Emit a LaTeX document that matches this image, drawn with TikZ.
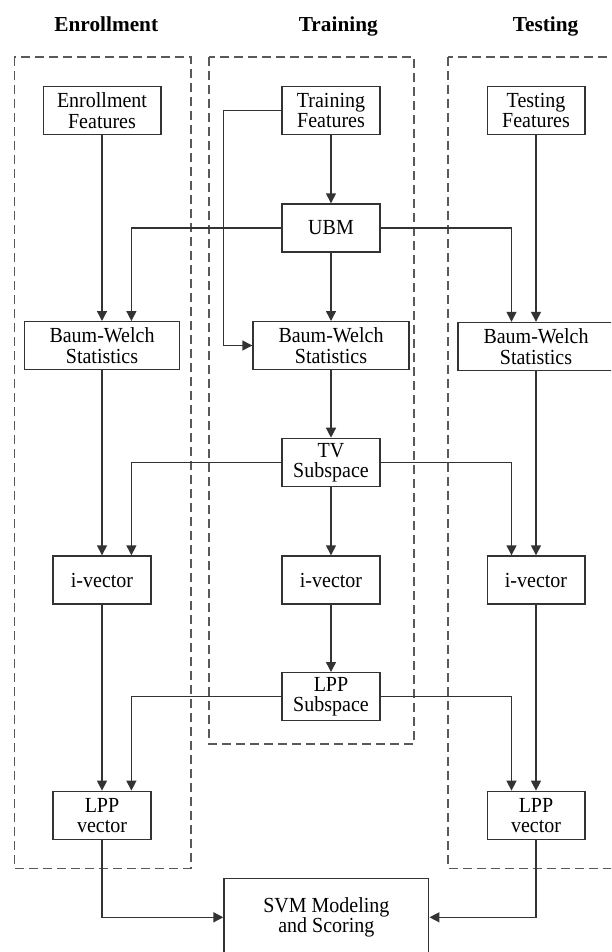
\documentclass[tikz,border=0pt]{standalone}
\usepackage{fontspec}
\setmainfont{Liberation Serif}
\newfontfamily\boxfont[FakeStretch=0.93]{Liberation Serif}
\usetikzlibrary{arrows.meta,calc}
\begin{document}
\begin{tikzpicture}[x=1pt,y=-1pt,
  box/.style={draw=black!80,line width=1.4pt,fill=white,align=center,inner sep=0pt,
    minimum height=48pt,font=\boxfont\fontsize{21.5}{20.3}\selectfont,text=black},
  conn/.style={draw=black!80,line width=1.4pt,-{Triangle[length=10pt,width=10pt]}},
  frame/.style={draw=black!65,line width=1.5pt,dash pattern=on 9pt off 5pt},
  title/.style={anchor=base,font=\bfseries\fontsize{21.3}{24}\selectfont,text=black}]
\useasboundingbox (0,0) rectangle (611,952);
\clip (0,0) rectangle (611,952);
% titles
\node[title] (t1) at (106.3,31.7) {Enrollment};
\node[title] (t2) at (338.3,31.7) {Training};
\node[title] (t3) at (545.6,31.7) {Testing};
% dashed frames
\draw[frame] (14.4,57) rectangle (191,868.3);
\draw[frame] (209,57) rectangle (414,744);
\draw[frame] (448,57) rectangle (640,868.3);
% enrollment column
\node[box,minimum width=117.6pt] (ef) at (102,110.7) {Enrollment\\Features};
\node[box,minimum width=155.5pt,minimum height=47.6pt] (ebw) at (102,345.5) {Baum-Welch\\Statistics};
\node[box,minimum width=98pt] (eiv) at (102,580) {i-vector};
\node[box,minimum width=98pt] (elpp) at (102,815.3) {LPP\\vector};
% training column
\node[box,minimum width=98pt] (trf) at (331,110.7) {Training\\Features};
\node[box,minimum width=98pt] (ubm) at (331,228) {UBM};
\node[box,minimum width=156pt,minimum height=47.6pt] (trbw) at (331,345.5) {Baum-Welch\\Statistics};
\node[box,minimum width=98pt] (tv) at (331,462.4) {TV\\Subspace};
\node[box,minimum width=98pt] (triv) at (331,580) {i-vector};
\node[box,minimum width=98pt] (lpps) at (331,696.7) {LPP\\Subspace};
% testing column
\node[box,minimum width=97.6pt] (tef) at (536,110.7) {Testing\\Features};
\node[box,minimum width=156pt] (tebw) at (536,346.5) {Baum-Welch\\Statistics};
\node[box,minimum width=97.6pt] (teiv) at (536,580) {i-vector};
\node[box,minimum width=97.6pt] (telpp) at (536,815.3) {LPP\\vector};
% scoring
\node[box,minimum width=204.7pt,minimum height=78pt] (svm) at (326.4,917.3) {SVM Modeling\\and Scoring};
% connectors
\draw[conn] (ef.south) -- (ef.south |- ebw.north);
\draw[conn] (tef.south) -- (tef.south |- tebw.north);
\draw[conn] (trf.south) -- (ubm.north);
\draw[conn] (ubm.south) -- (trbw.north);
\draw[conn] (trf.west) -- ++(-58,0) |- (trbw.west);
\draw[conn] (ubm.west) -| ([xshift=29.4pt]ebw.north);
\draw[conn] (ubm.east) -| ([xshift=-24.5pt]tebw.north);
\draw[conn] (ebw.south) -- (eiv.north);
\draw[conn] (trbw.south) -- (tv.north);
\draw[conn] (tebw.south) -- (teiv.north);
\draw[conn] (tv.west) -| ([xshift=29.4pt]eiv.north);
\draw[conn] (tv.east) -| ([xshift=-24.5pt]teiv.north);
\draw[conn] (tv.south) -- (triv.north);
\draw[conn] (triv.south) -- (lpps.north);
\draw[conn] (eiv.south) -- (elpp.north);
\draw[conn] (teiv.south) -- (telpp.north);
\draw[conn] (lpps.west) -| ([xshift=29.4pt]elpp.north);
\draw[conn] (lpps.east) -| ([xshift=-24.5pt]telpp.north);
\draw[conn] (elpp.south) |- (svm.west);
\draw[conn] (telpp.south) |- (svm.east);
\end{tikzpicture}
\end{document}
